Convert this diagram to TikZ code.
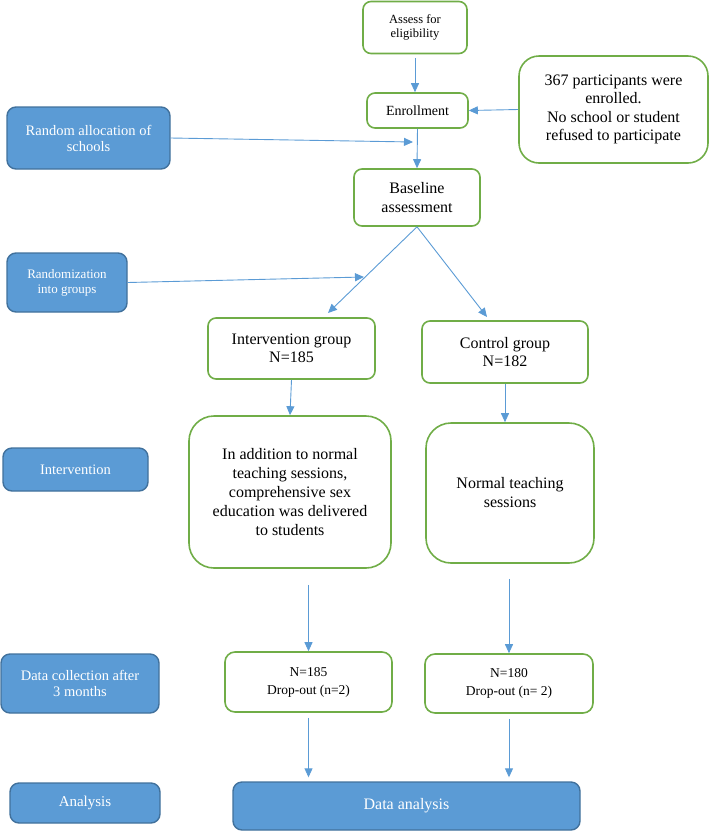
\documentclass[tikz,border=0pt]{standalone}
\usepackage{fontspec}
\setmainfont{Liberation Serif}
\usetikzlibrary{arrows.meta}
\definecolor{boxgreen}{HTML}{70AD47}
\definecolor{boxblue}{HTML}{5B9BD5}
\definecolor{edgeblue}{HTML}{41719C}
\begin{document}
\begin{tikzpicture}[x=1pt, y=-1pt, >={Triangle[length=9pt,width=8pt]},
	gbox/.style={draw=boxgreen, line width=1.6pt, rounded corners=8pt, align=center, inner sep=0pt},
	bbox/.style={draw=edgeblue, fill=boxblue, line width=1.4pt, rounded corners=9pt, align=center, inner sep=0pt, text=white},
	flow/.style={->, draw=boxblue, line width=0.9pt}]
\useasboundingbox (0,0) rectangle (709,831);
	% trial steps (right)
	\node[gbox, minimum width=104pt, minimum height=52pt, font=\fontsize{12.5}{14}\selectfont] (assess) at (415,27.5) {Assess for\\eligibility};
	\node[gbox, minimum width=101pt, minimum height=35pt, font=\fontsize{14}{16}\selectfont] (enroll) at (417.5,110.5) {Enrollment};
	\node[gbox, rounded corners=20pt, minimum width=189pt, minimum height=107pt, font=\fontsize{16}{18.5}\selectfont] (part) at (613.5,109.5) {367 participants were\\enrolled.\\No school or student\\refused to participate};
	\node[gbox, minimum width=126pt, minimum height=57pt, font=\fontsize{16}{19}\selectfont] (base) at (417,197.5) {Baseline\\assessment};
	\node[gbox, minimum width=167pt, minimum height=61pt, font=\fontsize{16}{18}\selectfont] (intg) at (291.5,348.5) {Intervention group\\N=185};
	\node[gbox, minimum width=166pt, minimum height=62pt, font=\fontsize{16}{18}\selectfont] (ctlg) at (505,352) {Control group\\N=182};
	\node[gbox, rounded corners=25pt, minimum width=202pt, minimum height=152pt, font=\fontsize{16}{19}\selectfont] (intbig) at (290,492) {In addition to normal\\teaching sessions,\\comprehensive sex\\education was delivered\\to students};
	\node[gbox, rounded corners=25pt, minimum width=168pt, minimum height=140pt, font=\fontsize{16}{19}\selectfont] (ctlbig) at (510,493) {Normal teaching\\sessions};
	\node[gbox, rounded corners=10pt, minimum width=167pt, minimum height=60pt, font=\fontsize{13.5}{18}\selectfont] (n185) at (308.5,682) {N=185\\Drop-out (n=2)};
	\node[gbox, rounded corners=10pt, minimum width=168pt, minimum height=59pt, font=\fontsize{13.5}{18}\selectfont] (n180) at (509,683.5) {N=180\\Drop-out (n= 2)};
	\node[bbox, minimum width=347pt, minimum height=48pt, font=\fontsize{16}{18}\selectfont] (dana) at (406.5,806) {Data analysis};
	% stage labels (left)
	\node[bbox, minimum width=163pt, minimum height=62pt, font=\fontsize{14.5}{16}\selectfont] (alloc) at (88.5,138) {Random allocation of\\schools};
	\node[bbox, minimum width=120pt, minimum height=59pt, font=\fontsize{13}{15}\selectfont] (rand) at (67,282.5) {Randomization\\into groups};
	\node[bbox, minimum width=145pt, minimum height=43pt, font=\fontsize{14.5}{16}\selectfont] (inter) at (75.5,469.5) {Intervention};
	\node[bbox, minimum width=158pt, minimum height=59pt, font=\fontsize{14.5}{16}\selectfont] (coll) at (80,683.5) {Data collection after\\3 months};
	\node[bbox, minimum width=150pt, minimum height=40pt, font=\fontsize{15}{17}\selectfont] (anal) at (85,803) {Analysis};
	\coordinate (join) at (413,142);
	\coordinate (split) at (364,277);
	\coordinate (intin) at (328,313);
	\coordinate (ctlin) at (487,317);
	% arrows
	\draw[flow, shorten <=4pt] (assess.south) -- (assess.south |- enroll.north);
	\draw[flow] (part.west) -- (enroll.east);
	\draw[flow] (enroll.south) -- (base.north);
	\draw[flow] (alloc.east) -- (join);
	\draw[flow] (base.south) -- (intin);
	\draw[flow] (base.south) -- (ctlin);
	\draw[flow] (rand.east) -- (split);
	\draw[flow] (intg.south) -- (intbig.north);
	\draw[flow] (ctlg.south) -- (ctlg.south |- ctlbig.north);
	\draw[flow, shorten <=16pt] (n185.north |- intbig.south) -- (n185.north);
	\draw[flow, shorten <=15pt] (n180.north |- ctlbig.south) -- (n180.north);
	\draw[flow, shorten <=5pt, shorten >=4pt] (n185.south) -- (n185.south |- dana.north);
	\draw[flow, shorten <=5pt, shorten >=4pt] (n180.south) -- (n180.south |- dana.north);
\end{tikzpicture}
\end{document}
